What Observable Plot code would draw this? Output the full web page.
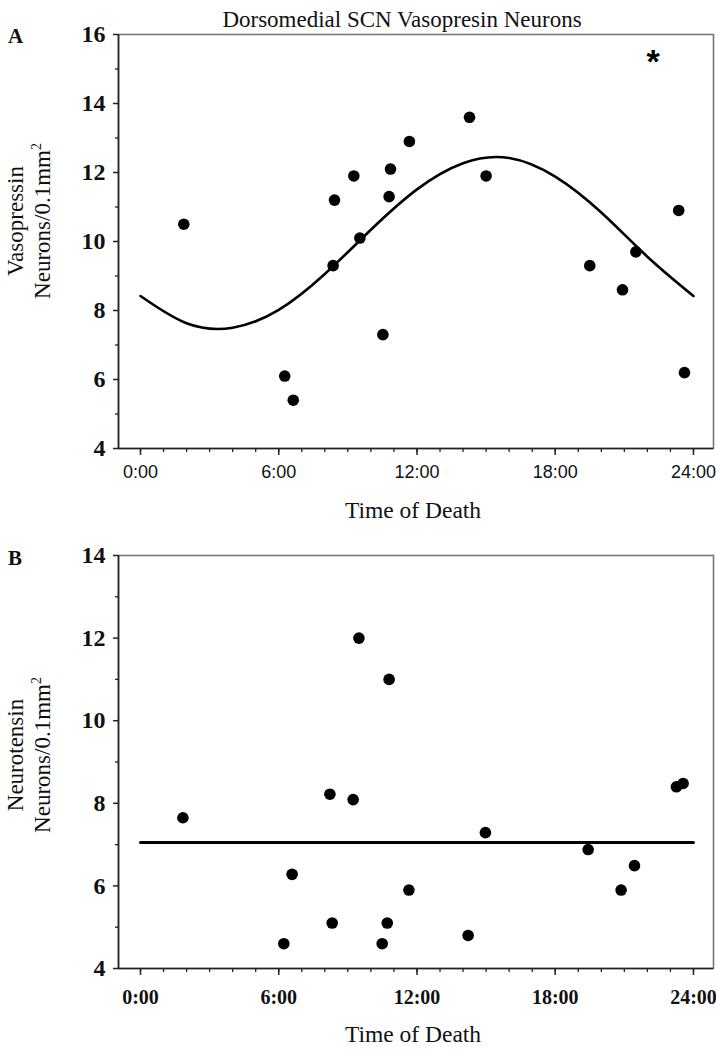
<!DOCTYPE html>
<html><head><meta charset="utf-8">
<script src="https://cdn.jsdelivr.net/npm/d3@7"></script>
<script src="https://cdn.jsdelivr.net/npm/@observablehq/plot@0.6"></script>
<style>
body{margin:0;background:#fff;}
#fig{position:relative;width:716px;height:1050px;overflow:hidden;font-family:"Liberation Serif","Times New Roman",serif;color:#111;background:#fff}
#fig svg{position:absolute;left:0}
.lab{position:absolute;white-space:nowrap;}
.ylab{position:absolute;text-align:center;line-height:27px;font-size:23px;transform:rotate(-90deg);white-space:nowrap}
.ylab .sup{font-size:14px;vertical-align:super;line-height:0}
</style></head><body><div id="fig"></div>
<script>
// ---- Data ----
const title = "Dorsomedial SCN Vasopresin Neurons";
const xTitle = "Time of Death";
const panelLetters = ["A", "B"];
const yTitleA = ["Vasopressin", "Neurons/0.1mm"];
const yTitleB = ["Neurotensin", "Neurons/0.1mm"];

// Panel A: vasopressin neurons vs. time of death (hours)
const timeA = [1.88, 6.26, 6.63, 8.36, 8.42, 9.26, 9.52, 10.52, 10.79, 10.85, 11.67, 14.28, 15.0, 19.5, 20.92, 21.5, 23.36, 23.61];
const vasopressin = [10.5, 6.1, 5.4, 9.3, 11.2, 11.9, 10.1, 7.3, 11.3, 12.1, 12.9, 13.6, 11.9, 9.3, 8.6, 9.7, 10.9, 6.2];
// Fitted rhythm every 2 h
const fitHours = [0, 2, 4, 6, 8, 10, 12, 14, 16, 18, 20, 22, 24];
const fitValues = [8.42, 7.63, 7.5, 8.02, 9.06, 10.34, 11.51, 12.27, 12.42, 11.88, 10.84, 9.56, 8.42];
const significance = [{h: 22.25, v: 15.31, label: "*"}];

// Panel B: neurotensin neurons vs. time of death (hours)
const timeB = [1.84, 6.22, 6.58, 8.22, 8.32, 9.23, 9.48, 10.49, 10.71, 10.79, 11.65, 14.22, 14.97, 19.43, 20.86, 21.44, 23.26, 23.55];
const neurotensin = [7.65, 4.6, 6.28, 8.22, 5.1, 8.09, 12.0, 4.6, 5.1, 11.0, 5.9, 4.8, 7.29, 6.88, 5.9, 6.49, 8.4, 8.48];
const meanHours = [0, 24];
const meanValues = [7.05, 7.05];

// Axis ticks
const majorHours = [0, 6, 12, 18, 24];
const minorHours = d3.range(0, 25, 1);
const yMajorA = [4, 6, 8, 10, 12, 14, 16];
const yMinorA = [5, 7, 9, 11, 13, 15];
const yMajorB = [4, 6, 8, 10, 12, 14];
const yMinorB = [5, 7, 9, 11, 13];

// ---- Build ----
const xDomain = [-0.955, 24.87];
const fmt = h => `${h}:00`;
const serif = "Liberation Serif, Times New Roman, serif";
const sans = "Liberation Sans, Arial, sans-serif";
const ptsA = timeA.map((h, i) => ({h, v: vasopressin[i]}));
const fitA = fitHours.map((h, i) => ({h, v: fitValues[i]}));
const ptsB = timeB.map((h, i) => ({h, v: neurotensin[i]}));
const meanB = meanHours.map((h, i) => ({h, v: meanValues[i]}));

function panel({height, marginTop, marginBottom, yDomain, yMajor, yMinor, xFont, xFontSize, xFontWeight, xPad, marks}) {
  return Plot.plot({
    width: 716, height, marginTop, marginBottom, marginLeft: 118, marginRight: 3,
    x: {domain: xDomain}, y: {domain: yDomain},
    style: {background: "transparent", overflow: "visible", fontFamily: serif},
    marks: [
      Plot.frame({stroke: "#777", strokeWidth: 1.6}),
      Plot.ruleX([xDomain[0]], {stroke: "#222", strokeWidth: 1.6}),
      Plot.ruleY([yDomain[0]], {stroke: "#222", strokeWidth: 1.6}),
      Plot.axisY(yMinor, {tickSize: 3, fill: "none", stroke: "#222", strokeWidth: 1.3, label: null}),
      Plot.axisY(yMajor, {tickSize: 5, tickPadding: 8, stroke: "#222", strokeWidth: 1.5, fill: "#111",
        fontSize: 24, fontWeight: "bold", fontFamily: serif, label: null}),
      Plot.axisX(minorHours, {tickSize: 4, fill: "none", stroke: "#222", strokeWidth: 1.3, label: null}),
      Plot.axisX(majorHours, {tickSize: 7, tickPadding: xPad, tickFormat: fmt, stroke: "#222", strokeWidth: 1.5, fill: "#111",
        fontSize: xFontSize, fontWeight: xFontWeight, fontFamily: xFont, label: null}),
      ...marks
    ]
  });
}

const plotA = panel({
  height: 520, marginTop: 34, marginBottom: 72, yDomain: [4, 16], yMajor: yMajorA, yMinor: yMinorA,
  xFont: sans, xFontSize: 18, xFontWeight: "normal", xPad: 10,
  marks: [
    Plot.line(fitA, {x: "h", y: "v", curve: "natural", stroke: "#000", strokeWidth: 2.6}),
    Plot.dot(ptsA, {x: "h", y: "v", r: 5.8, fill: "#000", stroke: null}),
    Plot.text(significance, {x: "h", y: "v", text: "label", fontSize: 34, fontWeight: "bold", fontFamily: sans, fill: "#000", dy: 4})
  ]
});
plotA.style.top = "0px";

const plotB = panel({
  height: 530, marginTop: 35, marginBottom: 82, yDomain: [4, 14], yMajor: yMajorB, yMinor: yMinorB,
  xFont: serif, xFontSize: 20, xFontWeight: "bold", xPad: 14,
  marks: [
    Plot.line(meanB, {x: "h", y: "v", stroke: "#000", strokeWidth: 3}),
    Plot.dot(ptsB, {x: "h", y: "v", r: 5.8, fill: "#000", stroke: null})
  ]
});
plotB.style.top = "520px";

const fig = document.getElementById("fig");
fig.appendChild(plotA);
fig.appendChild(plotB);

function addLabel(text, css) {
  const d = document.createElement("div");
  d.className = "lab";
  d.textContent = text;
  Object.assign(d.style, css);
  fig.appendChild(d);
  return d;
}
// Title
addLabel(title, {left: "402px", top: "8px", fontSize: "23px", lineHeight: "23px", transform: "translateX(-50%)"});
// Panel letters
addLabel(panelLetters[0], {left: "8px", top: "26px", fontSize: "21px", lineHeight: "21px", fontWeight: "bold"});
addLabel(panelLetters[1], {left: "8px", top: "548px", fontSize: "21px", lineHeight: "21px", fontWeight: "bold"});
// x titles
addLabel(xTitle, {left: "413px", top: "499px", fontSize: "23.5px", lineHeight: "23px", transform: "translateX(-50%)"});
addLabel(xTitle, {left: "413px", top: "1023px", fontSize: "23.5px", lineHeight: "23px", transform: "translateX(-50%)"});

function addYTitle(lines, cx, cy) {
  const W = 320, H = 54;
  const d = document.createElement("div");
  d.className = "ylab";
  Object.assign(d.style, {left: (cx - W / 2) + "px", top: (cy - H / 2) + "px", width: W + "px", height: H + "px"});
  const l1 = document.createElement("div");
  l1.textContent = lines[0];
  const l2 = document.createElement("div");
  l2.appendChild(document.createTextNode(lines[1]));
  const s = document.createElement("span");
  s.className = "sup";
  s.textContent = "2";
  l2.appendChild(s);
  d.appendChild(l1);
  d.appendChild(l2);
  fig.appendChild(d);
}
addYTitle(yTitleA, 28.5, 221);
addYTitle(yTitleB, 28.5, 755);
</script></body></html>
